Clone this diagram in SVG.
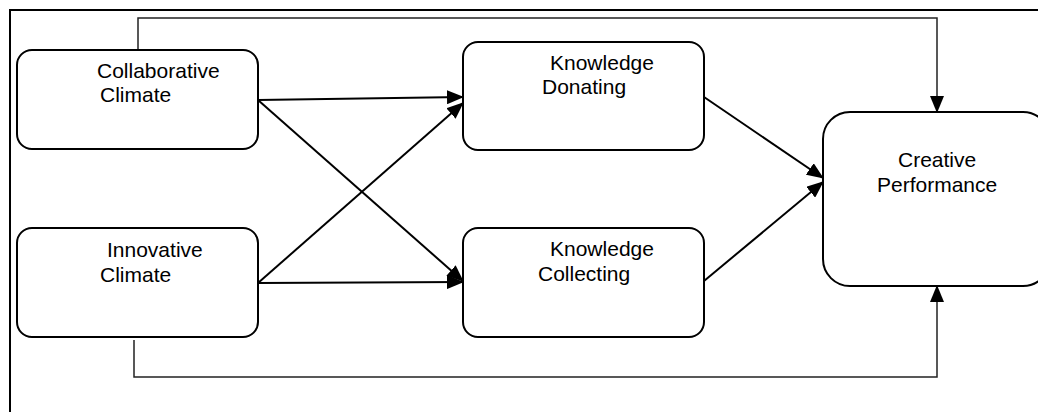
<svg xmlns="http://www.w3.org/2000/svg" width="1038" height="412" viewBox="0 0 1038 412">
<style>
.node rect{fill:#fff;stroke:#000;stroke-width:2}
.node text{font-family:"Liberation Sans",Arial,sans-serif;font-size:21px;fill:#000}
.c{fill:none;stroke:#000;stroke-width:2}
.r{fill:none;stroke:#222;stroke-width:1.5}
</style>
<defs>
<marker id="ah" markerUnits="userSpaceOnUse" markerWidth="18" markerHeight="14" refX="16" refY="7" orient="auto">
<path d="M0,0 L17,7 L0,14 z" fill="#000"/>
</marker>
</defs>
<rect x="10" y="10" width="1050" height="420" fill="none" stroke="#000" stroke-width="2"/>
<g id="connectors">
<polyline class="r" points="138,50 138,18 937,18 937,112" marker-end="url(#ah)"/>
<polyline class="r" points="134,340 134,377 937,377 937,286" marker-end="url(#ah)"/>
<line class="c" x1="258" y1="100" x2="463" y2="97" marker-end="url(#ah)"/>
<line class="c" x1="258" y1="100" x2="463" y2="281" marker-end="url(#ah)"/>
<line class="c" x1="258" y1="283" x2="463" y2="103" marker-end="url(#ah)"/>
<line class="c" x1="258" y1="283" x2="463" y2="282" marker-end="url(#ah)"/>
<line class="c" x1="704" y1="97" x2="823" y2="178" marker-end="url(#ah)"/>
<line class="c" x1="704" y1="281" x2="823" y2="182" marker-end="url(#ah)"/>
</g>
<g id="collaborative" class="node">
<rect x="17" y="50" width="241" height="99" rx="15"/>
<text x="97" y="78">Collaborative</text>
<text x="100" y="102">Climate</text>
</g>
<g id="innovative" class="node">
<rect x="17" y="228" width="241" height="109" rx="15"/>
<text x="107" y="257">Innovative</text>
<text x="100" y="282">Climate</text>
</g>
<g id="donating" class="node">
<rect x="463" y="42" width="241" height="108" rx="15"/>
<text x="550" y="70">Knowledge</text>
<text x="542" y="94">Donating</text>
</g>
<g id="collecting" class="node">
<rect x="463" y="228" width="241" height="109" rx="15"/>
<text x="550" y="256">Knowledge</text>
<text x="538" y="281">Collecting</text>
</g>
<g id="creative" class="node">
<rect x="823" y="112" width="227" height="174" rx="27"/>
<text x="898" y="167">Creative</text>
<text x="877" y="192">Performance</text>
</g>
</svg>
